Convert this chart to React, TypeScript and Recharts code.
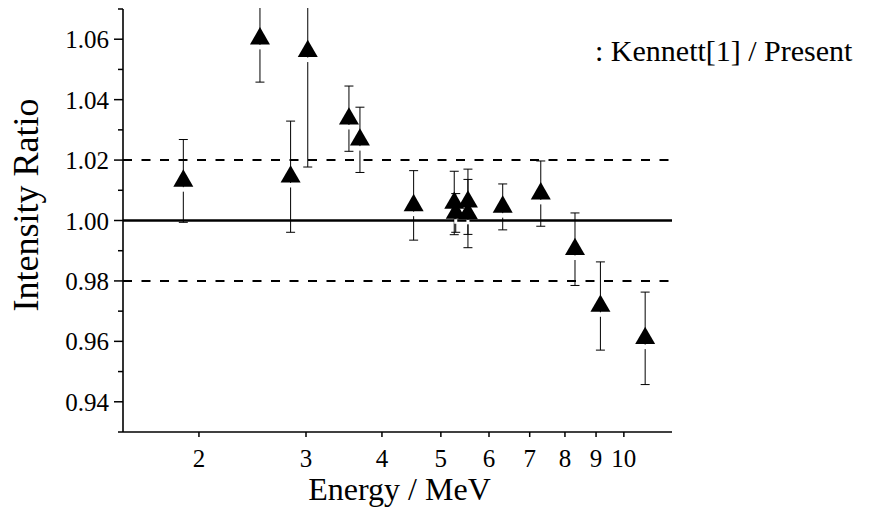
import { ScatterChart, Scatter, XAxis, YAxis, ErrorBar, ReferenceLine } from 'recharts'

const energies = [1.885, 2.52, 2.83, 3.02, 3.53, 3.68, 4.51, 5.26, 5.29, 5.54, 5.54, 6.32, 7.3, 8.31, 9.15, 10.84]
const ratios = [1.0131, 1.0602, 1.0145, 1.056, 1.0337, 1.0267, 1.005, 1.0058, 1.0025, 1.0062, 1.0023, 1.0045, 1.0089, 0.9905, 0.9717, 0.961]
const errors = [0.0137, 0.0144, 0.0184, 0.0383, 0.0108, 0.0108, 0.0115, 0.0105, 0.0064, 0.0108, 0.0113, 0.0076, 0.0108, 0.012, 0.0146, 0.0153]

const xTicks = [2, 3, 4, 5, 6, 7, 8, 9, 10]
const yTicks = [0.93, 0.94, 0.95, 0.96, 0.97, 0.98, 0.99, 1.0, 1.01, 1.02, 1.03, 1.04, 1.05, 1.06, 1.07]

const FONT = 'Liberation Serif'

const points = energies.map((energy, i) => ({ energy, ratio: ratios[i], err: errors[i] }))

const YTick = (props: any) => {
  const { x, y, payload } = props
  const v = payload.value as number
  const major = Math.round(v * 100) % 2 === 0
  return (
    <g>
      <line x1={x} x2={x - (major ? 9 : 5)} y1={y} y2={y} stroke="#000" strokeWidth={1.5} />
      {major && (
        <text x={x - 14} y={y + 9} textAnchor="end" fontFamily={FONT} fontSize={25} fill="#000">
          {v.toFixed(2)}
        </text>
      )}
    </g>
  )
}

const XTick = (props: any) => {
  const { x, y, payload } = props
  return (
    <text x={x} y={y + 18} textAnchor="middle" fontFamily={FONT} fontSize={25} fill="#000">
      {payload.value}
    </text>
  )
}

// filled triangle centred on its centroid, with a small gap in the lower error bar
const Triangle = (props: any) => {
  const { cx, cy } = props
  const s = 20
  const h = s * Math.sqrt(3) / 2
  const top = cy - (2 * h) / 3
  const base = cy + h / 3
  return (
    <g>
      <line x1={cx} x2={cx} y1={base + 0.5} y2={base + 5} stroke="#fff" strokeWidth={3} />
      <path d={`M${cx},${top} L${cx + s / 2},${base} L${cx - s / 2},${base} Z`} fill="#000" />
    </g>
  )
}

const XLabel = (props: any) => {
  const { viewBox } = props
  const cx = viewBox.x + viewBox.width / 2 + 2
  return (
    <text x={cx} y={viewBox.y + 68} textAnchor="middle" fontFamily={FONT} fontSize={32} fill="#000">
      Energy / MeV
    </text>
  )
}

const YLabel = () => (
  <text x={38} y={205} transform="rotate(-90 38 205)" textAnchor="middle" fontFamily={FONT} fontSize={36} fill="#000">
    Intensity Ratio
  </text>
)

export default function App() {
  return (
    <div style={{ position: 'relative', margin: -8, width: 887, height: 515 }}>
      <ScatterChart width={887} height={515} margin={{ top: 9, right: 215, bottom: 0, left: 0 }}>
        <XAxis
          dataKey="energy"
          type="number"
          scale="log"
          domain={[1.5, 12]}
          allowDataOverflow
          ticks={xTicks}
          interval={0}
          height={83}
          tickSize={5}
          tickMargin={12}
          axisLine={{ stroke: '#000', strokeWidth: 1.6 }}
          tickLine={{ stroke: '#000', strokeWidth: 1.5 }}
          tick={<XTick />}
          label={<XLabel />}
        />
        <YAxis
          dataKey="ratio"
          type="number"
          domain={[0.93, 1.07]}
          allowDataOverflow
          ticks={yTicks}
          interval={0}
          width={123}
          tickSize={0}
          tickMargin={0}
          tickLine={false}
          axisLine={{ stroke: '#000', strokeWidth: 1.6 }}
          tick={<YTick />}
          label={<YLabel />}
        />
        <ReferenceLine y={1.02} stroke="#000" strokeWidth={2} strokeDasharray="9 9.5" />
        <ReferenceLine y={0.98} stroke="#000" strokeWidth={2} strokeDasharray="9 9.5" />
        <ReferenceLine y={1.0} stroke="#000" strokeWidth={2.6} />
        <Scatter data={points} shape={<Triangle />} isAnimationActive={false}>
          <ErrorBar dataKey="err" direction="y" width={4.5} stroke="#000" strokeWidth={1} isAnimationActive={false} />
        </Scatter>
      </ScatterChart>
      <svg width={887} height={515} style={{ position: 'absolute', left: 0, top: 0, pointerEvents: 'none' }}>
        <text x={595} y={61} fontFamily={FONT} fontSize={30} fill="#000">
          : Kennett[1] / Present
        </text>
      </svg>
    </div>
  )
}
